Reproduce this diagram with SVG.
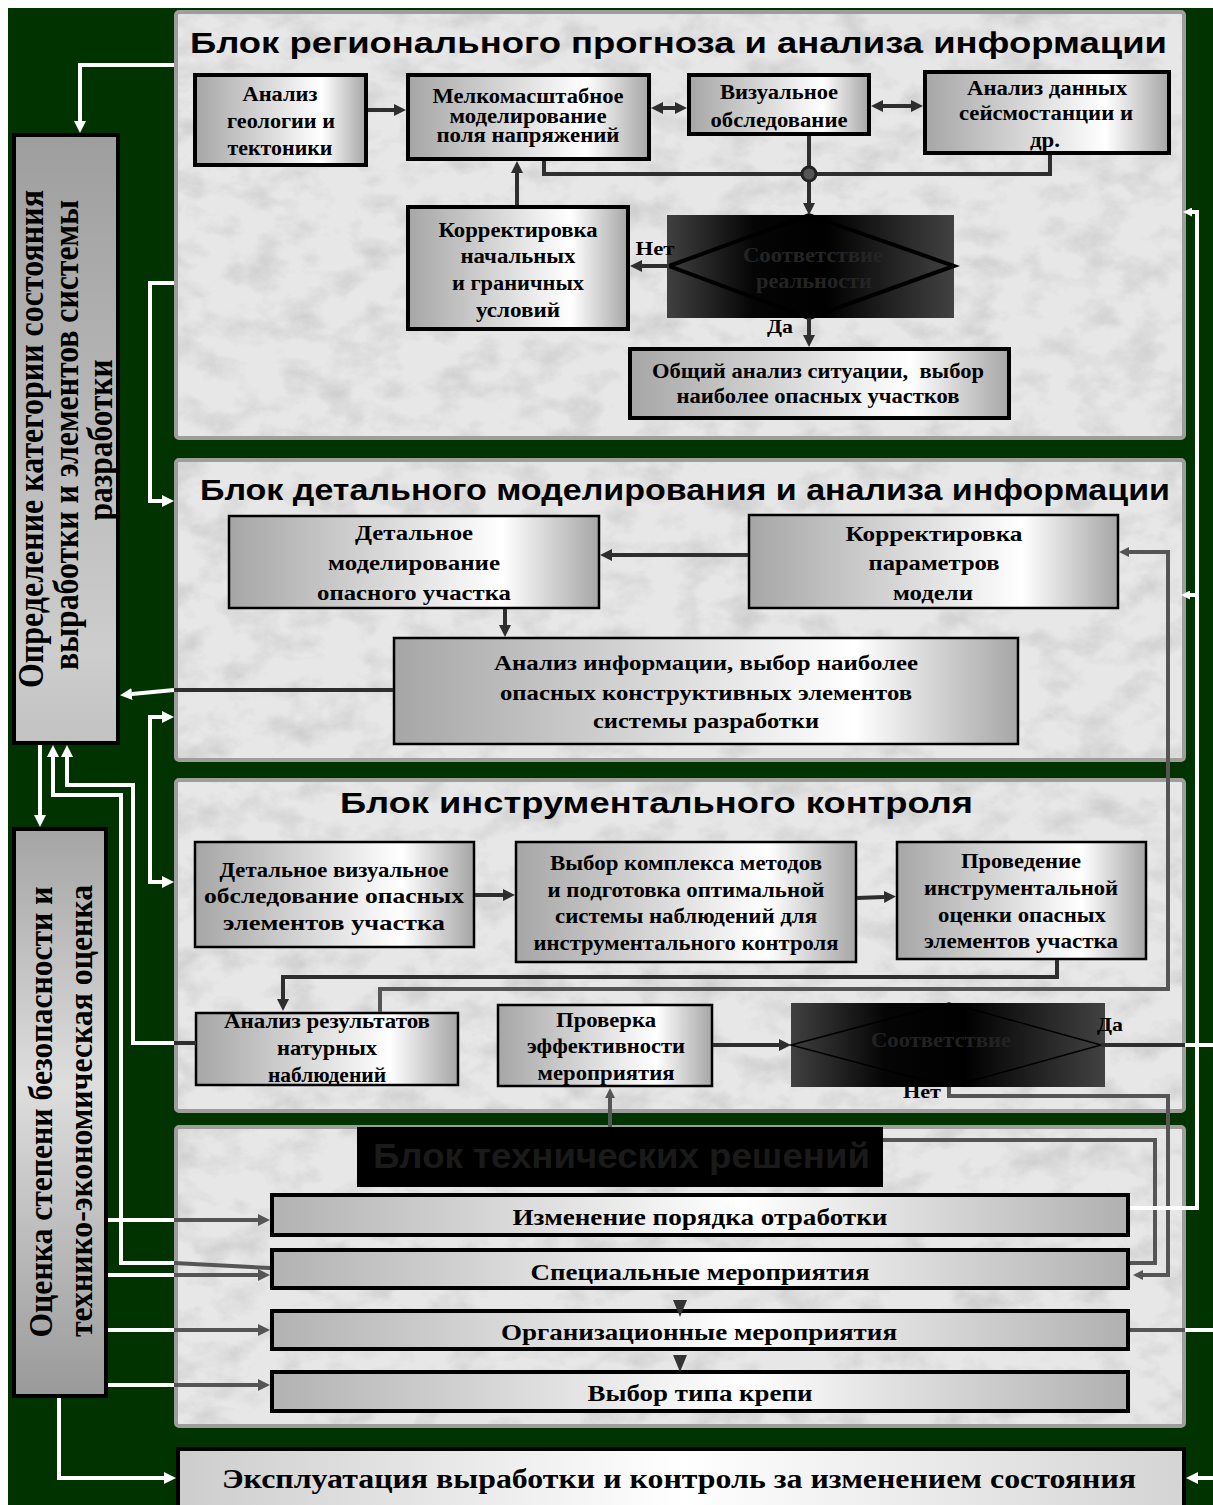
<svg xmlns="http://www.w3.org/2000/svg" width="1213" height="1505" viewBox="0 0 1213 1505">
<style>
.pn{fill:#e7e7e7}
.pb{fill:none;stroke:#9d9d9d;stroke-width:4}
.t{font-family:"Liberation Serif","Times New Roman",serif;font-weight:bold;text-anchor:middle;fill:#000}
.h{font-family:"Liberation Sans",Arial,sans-serif;font-weight:bold;fill:#000}
.nb4{stroke:#000;stroke-width:4}
.nb2{stroke:#000;stroke-width:2.5}
.cd{fill:none;stroke:#2e2e2e;stroke-width:4}
.cg{fill:none;stroke:#555;stroke-width:4}
.cw{fill:none;stroke:#fff;stroke-width:4}
</style>
<defs>
<linearGradient id="gNode" x1="0" y1="0" x2="1" y2="0"><stop offset="0" stop-color="#a6a6a6"/><stop offset="0.74" stop-color="#ffffff"/><stop offset="1" stop-color="#a6a6a6"/></linearGradient>
<linearGradient id="gBar" x1="0" y1="0" x2="1" y2="0"><stop offset="0" stop-color="#b2b2b2"/><stop offset="0.55" stop-color="#ffffff"/><stop offset="1" stop-color="#b0b0b0"/></linearGradient>
<linearGradient id="gExp" x1="0" y1="0" x2="1" y2="0"><stop offset="0" stop-color="#cdcdcd"/><stop offset="0.5" stop-color="#ffffff"/><stop offset="1" stop-color="#d4d4d4"/></linearGradient>
<linearGradient id="gDef" x1="0" y1="0" x2="0" y2="1"><stop offset="0" stop-color="#9e9e9e"/><stop offset="0.85" stop-color="#cdcdcd"/><stop offset="1" stop-color="#c2c2c2"/></linearGradient>
<linearGradient id="gOc" x1="0" y1="0" x2="0" y2="1"><stop offset="0" stop-color="#a4a4a4"/><stop offset="0.45" stop-color="#dedede"/><stop offset="1" stop-color="#999999"/></linearGradient>
<linearGradient id="gDia" x1="0" y1="0" x2="1" y2="0"><stop offset="0" stop-color="#404040"/><stop offset="0.3" stop-color="#050505"/><stop offset="0.55" stop-color="#000000"/><stop offset="1" stop-color="#424242"/></linearGradient>
<filter id="tex" x="0" y="0" width="100%" height="100%" color-interpolation-filters="sRGB">
<feTurbulence type="fractalNoise" baseFrequency="0.025 0.035" numOctaves="5" seed="11" result="n"/>
<feColorMatrix in="n" type="matrix" values="0 0 0 0 0.74 0 0 0 0 0.74 0 0 0 0 0.74 1.3 0 0 0 -0.58" result="sp"/>
<feComposite in="sp" in2="SourceGraphic" operator="in" result="sp2"/>
<feMerge><feMergeNode in="SourceGraphic"/><feMergeNode in="sp2"/></feMerge>
</filter>
<marker id="mD" viewBox="0 0 10 10" refX="0" refY="5" markerWidth="12" markerHeight="12" markerUnits="userSpaceOnUse" orient="auto-start-reverse"><path d="M0,0L10,5L0,10z" fill="#2e2e2e"/></marker>
<marker id="mW" viewBox="0 0 10 10" refX="0" refY="5" markerWidth="12" markerHeight="12" markerUnits="userSpaceOnUse" orient="auto-start-reverse"><path d="M0,0L10,5L0,10z" fill="#ffffff"/></marker>
<marker id="mWs" viewBox="0 0 10 10" refX="0" refY="5" markerWidth="10" markerHeight="9" markerUnits="userSpaceOnUse" orient="auto-start-reverse"><path d="M0,0L10,5L0,10z" fill="#ffffff"/></marker>
<marker id="mG" viewBox="0 0 10 10" refX="0" refY="5" markerWidth="11" markerHeight="10" markerUnits="userSpaceOnUse" orient="auto-start-reverse"><path d="M0,0L10,5L0,10z" fill="#555555"/></marker>
<marker id="mP" viewBox="0 0 10 10" refX="0" refY="5" markerWidth="12" markerHeight="15" markerUnits="userSpaceOnUse" orient="auto-start-reverse"><path d="M0,0L10,5L0,10z" fill="#555555"/></marker>
</defs>

<rect x="0" y="0" width="1213" height="1505" fill="#ffffff"/>
<rect x="8" y="8" width="1205" height="1497" fill="#003300"/>

<g id="panels">
<rect class="pn" filter="url(#tex)" x="176" y="12" width="1008" height="426"/>
<rect class="pb" x="176" y="12" width="1008" height="426" rx="3"/>
<rect class="pn" filter="url(#tex)" x="176" y="460" width="1008" height="300"/>
<rect class="pb" x="176" y="460" width="1008" height="300" rx="3"/>
<rect class="pn" filter="url(#tex)" x="176" y="780" width="1008" height="331"/>
<rect class="pb" x="176" y="780" width="1008" height="331" rx="3"/>
<rect class="pn" filter="url(#tex)" x="176" y="1127" width="1008" height="299"/>
<rect class="pb" x="176" y="1127" width="1008" height="299" rx="3"/>
<text class="h" x="190" y="53" font-size="30" textLength="977" lengthAdjust="spacingAndGlyphs">Блок регионального прогноза и анализа информации</text>
<text class="h" x="200" y="500" font-size="30" textLength="970" lengthAdjust="spacingAndGlyphs">Блок детального моделирования и анализа информации</text>
<text class="h" x="340" y="813" font-size="30" textLength="633" lengthAdjust="spacingAndGlyphs">Блок инструментального контроля</text>
</g>

<g id="n-analiz-geol">
<rect class="nb4" x="195" y="75" width="171" height="90" fill="url(#gNode)"/>
<text class="t" x="280" y="101" font-size="20" textLength="75" lengthAdjust="spacingAndGlyphs">Анализ</text>
<text class="t" x="281" y="128" font-size="20" textLength="108" lengthAdjust="spacingAndGlyphs">геологии и</text>
<text class="t" x="280" y="155" font-size="20" textLength="105" lengthAdjust="spacingAndGlyphs">тектоники</text>
</g>
<g id="n-melko">
<rect class="nb4" x="408" y="75" width="241" height="84" fill="url(#gNode)"/>
<text class="t" x="528" y="103" font-size="20" textLength="191" lengthAdjust="spacingAndGlyphs">Мелкомасштабное</text>
<text class="t" x="528" y="123" font-size="20" textLength="157" lengthAdjust="spacingAndGlyphs">моделирование</text>
<text class="t" x="528" y="142" font-size="20" textLength="183" lengthAdjust="spacingAndGlyphs">поля напряжений</text>
</g>
<g id="n-vizual">
<rect class="nb4" x="689" y="75" width="180" height="59" fill="url(#gNode)"/>
<text class="t" x="779" y="99" font-size="20" textLength="118" lengthAdjust="spacingAndGlyphs">Визуальное</text>
<text class="t" x="779" y="127" font-size="20" textLength="137" lengthAdjust="spacingAndGlyphs">обследование</text>
</g>
<g id="n-seism">
<rect class="nb4" x="925" y="72" width="244" height="81" fill="url(#gNode)"/>
<text class="t" x="1047" y="95" font-size="20" textLength="160" lengthAdjust="spacingAndGlyphs">Анализ данных</text>
<text class="t" x="1046" y="120" font-size="20" textLength="174" lengthAdjust="spacingAndGlyphs">сейсмостанции и</text>
<text class="t" x="1045" y="147" font-size="20" textLength="30" lengthAdjust="spacingAndGlyphs">др.</text>
</g>
<g id="n-korr-nach">
<rect class="nb4" x="408" y="207" width="220" height="122" fill="url(#gNode)"/>
<text class="t" x="518" y="237" font-size="20" textLength="159" lengthAdjust="spacingAndGlyphs">Корректировка</text>
<text class="t" x="518" y="263" font-size="20" textLength="115" lengthAdjust="spacingAndGlyphs">начальных</text>
<text class="t" x="518" y="290" font-size="20" textLength="132" lengthAdjust="spacingAndGlyphs">и граничных</text>
<text class="t" x="518" y="317" font-size="20" textLength="84" lengthAdjust="spacingAndGlyphs">условий</text>
</g>
<g id="n-sootv1">
<rect x="667" y="215" width="287" height="103" fill="url(#gDia)"/>
<polygon points="669,266 809,215 954,266 809,318" fill="none" stroke="#000" stroke-width="4"/>
<text class="t" x="813" y="262" font-size="20" style="fill:#242424" textLength="140" lengthAdjust="spacingAndGlyphs">Соответствие</text>
<text class="t" x="814" y="288" font-size="20" style="fill:#242424" textLength="116" lengthAdjust="spacingAndGlyphs">реальности</text>
</g>
<g id="n-obshiy">
<rect class="nb4" x="630" y="349" width="379" height="69" fill="url(#gNode)"/>
<text class="t" x="818" y="378" font-size="20" style="white-space:pre" textLength="332" lengthAdjust="spacingAndGlyphs">Общий анализ ситуации,  выбор</text>
<text class="t" x="818" y="403" font-size="20" textLength="283" lengthAdjust="spacingAndGlyphs">наиболее опасных участков</text>
</g>

<g id="n-detal-model">
<rect class="nb2" x="229" y="516" width="370" height="92" fill="url(#gNode)"/>
<text class="t" x="414" y="540" font-size="21" textLength="118" lengthAdjust="spacingAndGlyphs">Детальное</text>
<text class="t" x="414" y="570" font-size="21" textLength="172" lengthAdjust="spacingAndGlyphs">моделирование</text>
<text class="t" x="414" y="600" font-size="21" textLength="194" lengthAdjust="spacingAndGlyphs">опасного участка</text>
</g>
<g id="n-korr-param">
<rect class="nb2" x="749" y="515" width="369" height="93" fill="url(#gNode)"/>
<text class="t" x="934" y="541" font-size="21" textLength="177" lengthAdjust="spacingAndGlyphs">Корректировка</text>
<text class="t" x="934" y="570" font-size="21" textLength="131" lengthAdjust="spacingAndGlyphs">параметров</text>
<text class="t" x="933" y="600" font-size="21" textLength="80" lengthAdjust="spacingAndGlyphs">модели</text>
</g>
<g id="n-analiz-info">
<rect class="nb2" x="394" y="638" width="624" height="106" fill="url(#gNode)"/>
<text class="t" x="706" y="670" font-size="21" textLength="424" lengthAdjust="spacingAndGlyphs">Анализ информации, выбор наиболее</text>
<text class="t" x="706" y="700" font-size="21" textLength="412" lengthAdjust="spacingAndGlyphs">опасных конструктивных элементов</text>
<text class="t" x="706" y="728" font-size="21" textLength="226" lengthAdjust="spacingAndGlyphs">системы разработки</text>
</g>

<g id="n-detal-viz">
<rect class="nb2" x="195" y="842" width="279" height="105" fill="url(#gNode)"/>
<text class="t" x="334" y="877" font-size="21" textLength="229" lengthAdjust="spacingAndGlyphs">Детальное визуальное</text>
<text class="t" x="334" y="903" font-size="21" textLength="260" lengthAdjust="spacingAndGlyphs">обследование опасных</text>
<text class="t" x="334" y="930" font-size="21" textLength="222" lengthAdjust="spacingAndGlyphs">элементов участка</text>
</g>
<g id="n-vybor-kompl">
<rect class="nb2" x="516" y="842" width="340" height="120" fill="url(#gNode)"/>
<text class="t" x="686" y="870" font-size="22" textLength="272" lengthAdjust="spacingAndGlyphs">Выбор комплекса методов</text>
<text class="t" x="686" y="897" font-size="22" textLength="277" lengthAdjust="spacingAndGlyphs">и подготовка оптимальной</text>
<text class="t" x="686" y="923" font-size="22" textLength="262" lengthAdjust="spacingAndGlyphs">системы наблюдений для</text>
<text class="t" x="686" y="950" font-size="22" textLength="305" lengthAdjust="spacingAndGlyphs">инструментального контроля</text>
</g>
<g id="n-provedenie">
<rect class="nb2" x="897" y="842" width="249" height="117" fill="url(#gNode)"/>
<text class="t" x="1021" y="868" font-size="22" textLength="120" lengthAdjust="spacingAndGlyphs">Проведение</text>
<text class="t" x="1021" y="895" font-size="22" textLength="194" lengthAdjust="spacingAndGlyphs">инструментальной</text>
<text class="t" x="1022" y="922" font-size="22" textLength="168" lengthAdjust="spacingAndGlyphs">оценки опасных</text>
<text class="t" x="1021" y="948" font-size="22" textLength="194" lengthAdjust="spacingAndGlyphs">элементов участка</text>
</g>
<g id="n-analiz-rez">
<rect class="nb2" x="196" y="1013" width="262" height="72" fill="url(#gNode)"/>
<text class="t" x="327" y="1028" font-size="21" textLength="206" lengthAdjust="spacingAndGlyphs">Анализ результатов</text>
<text class="t" x="327" y="1055" font-size="21" textLength="100" lengthAdjust="spacingAndGlyphs">натурных</text>
<text class="t" x="327" y="1082" font-size="21" textLength="118" lengthAdjust="spacingAndGlyphs">наблюдений</text>
</g>
<g id="n-proverka">
<rect class="nb2" x="498" y="1005" width="214" height="81" fill="url(#gNode)"/>
<text class="t" x="606" y="1027" font-size="21" textLength="100" lengthAdjust="spacingAndGlyphs">Проверка</text>
<text class="t" x="606" y="1053" font-size="21" textLength="158" lengthAdjust="spacingAndGlyphs">эффективности</text>
<text class="t" x="606" y="1080" font-size="21" textLength="137" lengthAdjust="spacingAndGlyphs">мероприятия</text>
</g>
<g id="n-sootv2">
<rect x="791" y="1003" width="314" height="84" fill="url(#gDia)"/>
<polygon points="791,1045 949,1003 1101,1045 949,1087" fill="none" stroke="#000" stroke-width="1.5"/>
<text class="t" x="941" y="1047" font-size="21" style="fill:#222" textLength="140" lengthAdjust="spacingAndGlyphs">Соответствие</text>
</g>

<g id="n-blok-tech">
<rect x="357" y="1127" width="526" height="60" fill="#000"/>
<text class="h" x="373" y="1168" font-size="35" style="fill:#1a1a1a" textLength="497" lengthAdjust="spacingAndGlyphs">Блок технических решений</text>
</g>
<g id="n-izmenenie">
<rect class="nb4" x="272" y="1195" width="856" height="40" fill="url(#gBar)"/>
<text class="t" x="700" y="1225" font-size="24" textLength="375" lengthAdjust="spacingAndGlyphs">Изменение порядка отработки</text>
</g>
<g id="n-spec">
<rect class="nb4" x="272" y="1250" width="856" height="38" fill="url(#gBar)"/>
<text class="t" x="700" y="1280" font-size="24" textLength="339" lengthAdjust="spacingAndGlyphs">Специальные мероприятия</text>
</g>
<g id="n-org">
<rect class="nb4" x="272" y="1311" width="856" height="38" fill="url(#gBar)"/>
<text class="t" x="699" y="1340" font-size="24" textLength="396" lengthAdjust="spacingAndGlyphs">Организационные мероприятия</text>
</g>
<g id="n-krep">
<rect class="nb4" x="272" y="1372" width="856" height="39" fill="url(#gBar)"/>
<text class="t" x="700" y="1401" font-size="24" textLength="225" lengthAdjust="spacingAndGlyphs">Выбор типа крепи</text>
</g>
<g id="n-expl">
<rect class="nb4" x="178" y="1449" width="1006" height="70" fill="url(#gExp)"/>
<text class="t" x="679" y="1488" font-size="27" textLength="914" lengthAdjust="spacingAndGlyphs">Эксплуатация выработки и контроль за изменением состояния</text>
</g>

<g id="n-opredelenie">
<rect class="nb4" x="14" y="135" width="104" height="608" fill="url(#gDef)"/>
<text class="t" transform="translate(43,439) rotate(-90)" x="0" y="0" font-size="35" textLength="498" lengthAdjust="spacingAndGlyphs">Определение категории состояния</text>
<text class="t" transform="translate(78,435) rotate(-90)" x="0" y="0" font-size="35" textLength="470" lengthAdjust="spacingAndGlyphs">выработки и элементов системы</text>
<text class="t" transform="translate(112,440) rotate(-90)" x="0" y="0" font-size="35" textLength="161" lengthAdjust="spacingAndGlyphs">разработки</text>
</g>
<g id="n-ocenka">
<rect class="nb4" x="14" y="829" width="92" height="567" fill="url(#gOc)"/>
<text class="t" transform="translate(52,1112) rotate(-90)" x="0" y="0" font-size="33" textLength="451" lengthAdjust="spacingAndGlyphs">Оценка степени безопасности и</text>
<text class="t" transform="translate(92,1111) rotate(-90)" x="0" y="0" font-size="33" textLength="452" lengthAdjust="spacingAndGlyphs">технико-экономическая оценка</text>
</g>

<g id="connectors">
<path class="cd" d="M368,110H394" marker-end="url(#mD)"/>
<path class="cd" d="M663,108H675" marker-start="url(#mD)" marker-end="url(#mD)"/>
<path class="cd" d="M883,106H911" marker-start="url(#mD)" marker-end="url(#mD)"/>
<path class="cd" d="M544,161V174H1050V155"/>
<path class="cd" d="M809,136V203" marker-end="url(#mD)"/>
<circle cx="809" cy="174" r="7" fill="#555" stroke="#222" stroke-width="3"/>
<path class="cd" d="M517,205V173" marker-end="url(#mD)"/>
<path class="cd" d="M669,266H642" marker-end="url(#mD)"/>
<path class="cd" d="M809,318V335" marker-end="url(#mD)"/>
<text class="t" x="655" y="255" font-size="19" textLength="39" lengthAdjust="spacingAndGlyphs">Нет</text>
<text class="t" x="780" y="333" font-size="19" textLength="26" lengthAdjust="spacingAndGlyphs">Да</text>

<path class="cd" d="M748,555H612" stroke-width="5" marker-end="url(#mD)"/>
<path class="cd" d="M505,609V625" marker-end="url(#mD)"/>
<path class="cd" d="M393,690H174" stroke-width="3"/>
<path class="cw" d="M174,690L132,694" marker-end="url(#mW)"/>

<path class="cd" d="M475,895H503" stroke-width="6" marker-end="url(#mD)"/>
<path class="cd" d="M857,898L884,897" stroke-width="6" marker-end="url(#mD)"/>
<path class="cd" d="M1057,960V977H283V999" marker-end="url(#mD)"/>
<path class="cg" d="M380,1012V989H1168V552H1129" marker-end="url(#mG)"/>
<path class="cd" d="M713,1045H779" stroke-width="6" marker-end="url(#mD)"/>
<path class="cd" d="M1101,1045H1185" stroke-width="8"/>
<path class="cw" d="M1185,1045H1213" stroke-width="5"/>
<path class="cg" d="M949,1087V1096H1168V1275H1143" marker-end="url(#mG)"/>
<text class="t" x="1110" y="1031" font-size="19" textLength="26" lengthAdjust="spacingAndGlyphs">Да</text>
<text class="t" x="922" y="1098" font-size="19" textLength="38" lengthAdjust="spacingAndGlyphs">Нет</text>
<path class="cg" d="M610,1127V1098" stroke-width="3" marker-end="url(#mG)"/>
<path class="cg" d="M883,1140H1155V1263H1130"/>

<path class="cw" d="M108,1220H174" stroke-width="5"/>
<path class="cg" d="M174,1220H258" stroke-width="7" marker-end="url(#mP)"/>
<path class="cw" d="M108,1275H174" stroke-width="5"/>
<path class="cg" d="M174,1275H258" stroke-width="7" marker-end="url(#mP)"/>
<path class="cw" d="M108,1330H174" stroke-width="5"/>
<path class="cg" d="M174,1330H258" stroke-width="7" marker-end="url(#mP)"/>
<path class="cw" d="M108,1385H174" stroke-width="5"/>
<path class="cg" d="M174,1385H258" stroke-width="7" marker-end="url(#mP)"/>
<polygon points="673,1300 687,1300 680,1317" fill="#333"/>
<polygon points="673,1355 687,1355 680,1372" fill="#333"/>
<path class="cg" d="M1130,1330H1185" stroke-width="6"/>
<path class="cw" d="M1185,1330H1213"/>

<path class="cw" d="M1130,1208H1197V212H1192" marker-end="url(#mWs)"/>
<path class="cw" d="M1197,595H1190" marker-end="url(#mWs)"/>
<path class="cw" d="M59,1398V1478H164" stroke-width="5" marker-end="url(#mW)"/>
<path class="cw" d="M1213,1478H1198" marker-end="url(#mW)"/>

<path class="cw" d="M174,65H80V121" stroke-width="5" marker-end="url(#mW)"/>
<path class="cw" d="M174,283H150V501H162" marker-end="url(#mW)"/>
<path class="cw" d="M162,717H150V882H162" marker-start="url(#mW)" marker-end="url(#mW)"/>
<path class="cw" d="M40,745V815" stroke-width="5" marker-end="url(#mW)"/>
<path class="cd" d="M196,1043H174"/>
<path class="cw" d="M174,1043H133V785H67V757" marker-end="url(#mW)"/>
<path class="cg" d="M270,1268L174,1263"/>
<path class="cw" d="M174,1263H121V795H53V757" marker-end="url(#mW)"/>
</g>
</svg>
